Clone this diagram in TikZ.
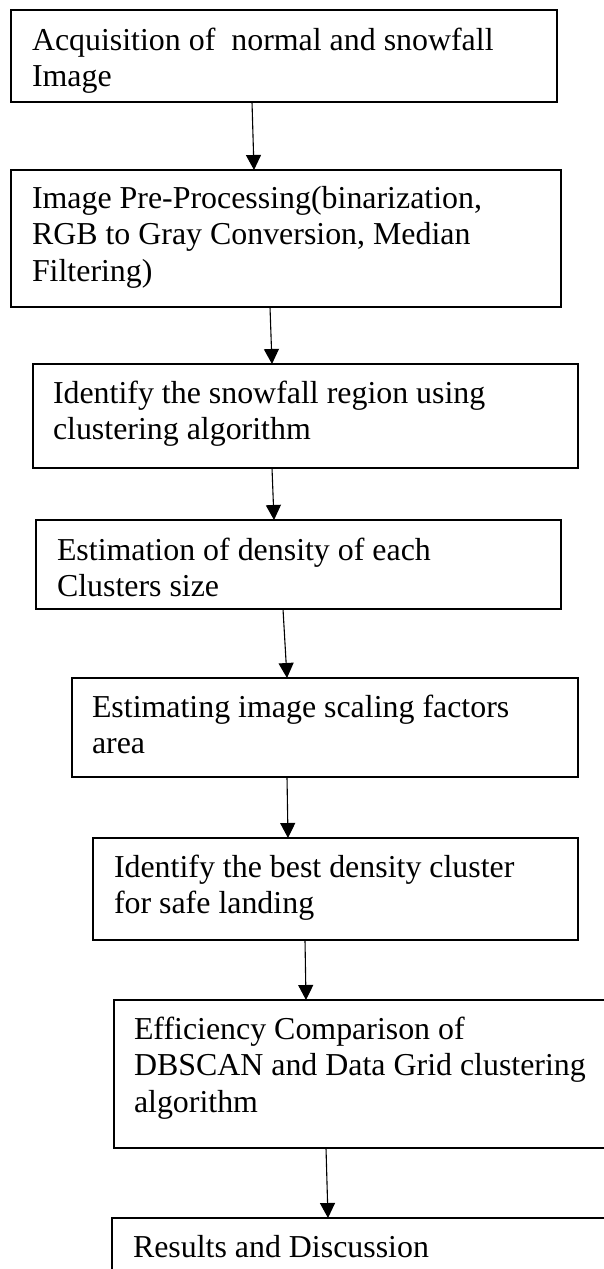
\documentclass[tikz,border=0pt]{standalone}
\usepackage{fontspec}
\setmainfont{Liberation Serif}
\usetikzlibrary{arrows.meta}

% multi-line label whose baseline is the first line's baseline
\newcommand{\steplines}[1]{\begin{tabular}[t]{@{}l@{}}#1\end{tabular}}

\tikzset{
  stepbox/.style={draw=black, line width=1.3pt, inner sep=0pt, outer sep=0pt,
                  rectangle, anchor=north west},
  steptext/.style={anchor=base west, inner sep=0pt, outer sep=0pt,
                   font=\fontsize{31.9pt}{36.7pt}\selectfont},
  flow/.style={draw=black, line width=1.1pt,
               -{Triangle[width=15pt,length=15pt]}}
}

\begin{document}
\begin{tikzpicture}[x=1pt, y=-1pt]
  \useasboundingbox (0,0) rectangle (604,1269);
  \clip (0,0) rectangle (604,1269);

  % boxes of the flow chart
  \node[stepbox, minimum width=546pt, minimum height=92pt]  (b1) at (11,10)   {};
  \node[stepbox, minimum width=550pt, minimum height=137pt] (b2) at (11,170)  {};
  \node[stepbox, minimum width=545pt, minimum height=104pt] (b3) at (33,364)  {};
  \node[stepbox, minimum width=525pt, minimum height=89pt]  (b4) at (36,520)  {};
  \node[stepbox, minimum width=506pt, minimum height=99pt]  (b5) at (72,678)  {};
  \node[stepbox, minimum width=485pt, minimum height=102pt] (b6) at (93,838)  {};
  \node[stepbox, minimum width=520pt, minimum height=148pt] (b7) at (114,1000) {};
  \node[stepbox, minimum width=520pt, minimum height=100pt] (b8) at (112,1218) {};

  % labels
  \node[steptext] (t1) at (32,50)
    {\steplines{Acquisition of\ \ normal and snowfall\\Image}};
  \node[steptext] (t2) at (32,208)
    {\steplines{Image Pre-Processing(binarization,\\RGB to Gray Conversion, Median\\Filtering)}};
  \node[steptext] (t3) at (53,403)
    {\steplines{Identify the snowfall region using\\clustering algorithm}};
  \node[steptext] (t4) at (57,560)
    {\steplines{Estimation of density of each\\Clusters size}};
  \node[steptext] (t5) at (92,717)
    {\steplines{Estimating image scaling factors\\area}};
  \node[steptext] (t6) at (114,877)
    {\steplines{Identify the best density cluster\\for safe landing}};
  \node[steptext] (t7) at (134,1039)
    {\steplines{Efficiency Comparison of\\DBSCAN and Data Grid clustering\\algorithm}};
  \node[steptext] (t8) at (133,1257)
    {\steplines{Results and Discussion}};

  % connectors
  \draw[flow] ([xshift=241pt]b1.south west) -- ([xshift=243pt]b2.north west);
  \draw[flow] ([xshift=259pt]b2.south west) -- ([xshift=239pt]b3.north west);
  \draw[flow] ([xshift=239pt]b3.south west) -- ([xshift=238pt]b4.north west);
  \draw[flow] ([xshift=247pt]b4.south west) -- ([xshift=215pt]b5.north west);
  \draw[flow] ([xshift=215pt]b5.south west) -- ([xshift=195pt]b6.north west);
  \draw[flow] ([xshift=212pt]b6.south west) -- ([xshift=192pt]b7.north west);
  \draw[flow] ([xshift=212pt]b7.south west) -- ([xshift=216pt]b8.north west);
\end{tikzpicture}
\end{document}
